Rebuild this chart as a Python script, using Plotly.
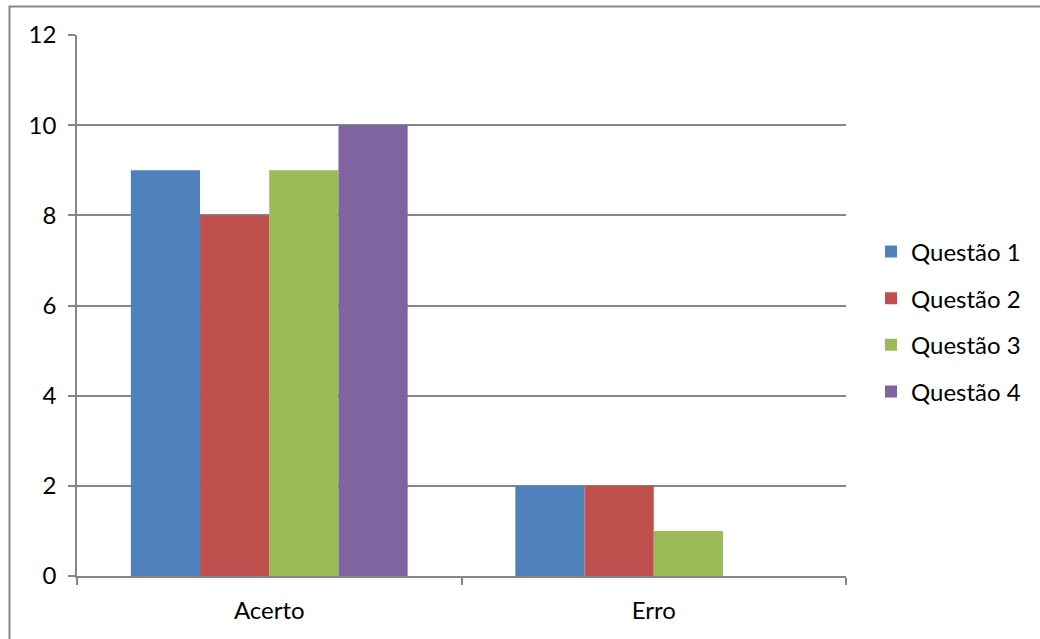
import plotly.graph_objects as go

categories = ["Acerto", "Erro"]
series_names = ["Questão 1", "Questão 2", "Questão 3", "Questão 4"]
q1 = [9, 2]
q2 = [8, 2]
q3 = [9, 1]
q4 = [10, 0]
y_ticks = [0, 2, 4, 6, 8, 10, 12]
colors = ["#4F81BD", "#C0504D", "#9BBB59", "#8064A2"]

FONT = "Lato"
FS = 24
GRAY = "#868686"

fig = go.Figure()
for i, (name, vals) in enumerate(zip(series_names, [q1, q2, q3, q4])):
    fig.add_trace(go.Bar(
        x=categories, y=vals, name=name,
        marker=dict(color=colors[i], line=dict(width=0)),
        legendgroup=name,
    ))

W, H = 1040, 639
L, R, T, B = 77, 846, 35, 576
pw, ph = R - L, B - T

def px(x):
    return (x - L) / pw

def py(y):
    return (B - y) / ph

fig.update_layout(
    width=W, height=H,
    margin=dict(l=L, r=W - R, t=T, b=H - B, pad=0),
    paper_bgcolor="white", plot_bgcolor="white",
    barmode="group", bargap=0.28, bargroupgap=0,
    font=dict(family=FONT, size=FS, color="black"),
    showlegend=True,
    legend=dict(
        x=px(871), xanchor="left", y=py(229.5), yanchor="top",
        font=dict(family=FONT, size=FS, color="black"),
        tracegroupgap=12.4, traceorder="grouped",
        bgcolor="rgba(0,0,0,0)",
    ),
    xaxis=dict(
        type="category", tickson="boundaries", ticks="outside", ticklen=7,
        tickcolor=GRAY, tickwidth=1.5, showline=True, linecolor=GRAY, linewidth=1.5,
        showgrid=False, zeroline=False,
        tickfont=dict(family=FONT, size=FS, color="black"),
        ticklabelstandoff=12,
    ),
    yaxis=dict(
        range=[0, 12], tickvals=y_ticks, ticks="outside", ticklen=7,
        tickcolor=GRAY, tickwidth=1.5, showline=True, linecolor=GRAY, linewidth=1.5,
        showgrid=True, gridcolor=GRAY, gridwidth=1.5, zeroline=False,
        tickfont=dict(family=FONT, size=FS, color="black"),
        ticklabelstandoff=7,
    ),
    shapes=[dict(
        type="rect", xref="paper", yref="paper",
        x0=px(9.5), x1=px(1060), y0=py(660), y1=py(6.5),
        line=dict(color=GRAY, width=2), fillcolor="rgba(0,0,0,0)", layer="above",
    )],
)

fig.write_html("out.html")
